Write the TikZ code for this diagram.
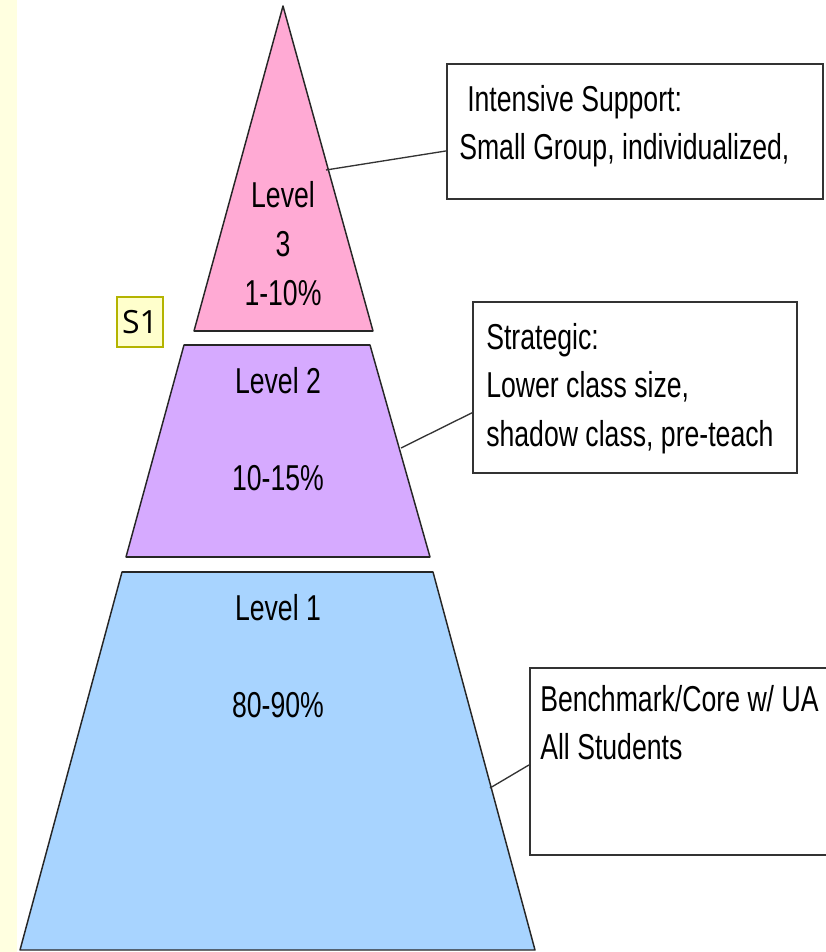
\documentclass[tikz,border=0pt]{standalone}
\usepackage{fontspec}
\newfontfamily\narrowfont[FakeStretch=0.74]{Liberation Sans}
\newfontfamily\slidefont{Open Sans}
\definecolor{levelpink}{RGB}{255,170,212}
\definecolor{levelpurple}{RGB}{214,170,255}
\definecolor{levelblue}{RGB}{168,212,255}
\definecolor{stripyellow}{RGB}{255,255,224}
\definecolor{tagyellow}{RGB}{255,255,204}
\definecolor{tagolive}{RGB}{180,180,0}

\begin{document}
\begin{tikzpicture}[x=0.75pt, y=-0.75pt,
		level/.style={draw=black!85, line width=1.1pt, line join=round},
		rim/.style={draw=black!85, line width=2pt},
		levellabel/.style={font=\narrowfont\fontsize{27}{36.75}\selectfont, align=center, inner sep=0pt},
		infobox/.style={draw=black!80, line width=1.6pt, fill=white, inner sep=0pt},
		infotext/.style={font=\narrowfont\fontsize{27}{36.3}\selectfont, align=left, inner sep=0pt, anchor=north west},
		link/.style={draw=black!80, line width=1pt}]
				\useasboundingbox (0,0) rectangle (825,952);
				\fill[stripyellow] (0,0) rectangle (17,952);
				\draw[level, fill=levelpink] (283,6) -- (373,331) -- (194,331) -- cycle;
				\draw[rim] (194,331) -- (373,331);
				\draw[level, fill=levelpurple] (184,345) -- (370,345) -- (430,557) -- (126,557) -- cycle;
				\draw[rim] (184,345) -- (370,345) (126,557) -- (430,557);
				\draw[level, fill=levelblue] (122,572) -- (433,572) -- (535,950) -- (20,950) -- cycle;
				\draw[rim] (122,572) -- (433,572);
				\node[levellabel] (levelthree) at (283,244) {Level\\3\\1-10\%};
				\node[levellabel] (leveltwo) at (278,429.5) {Level 2\\[36pt]10-15\%};
				\node[levellabel] (levelone) at (278,656) {Level 1\\[36pt]80-90\%};
				\node[draw=tagolive, fill=tagyellow, line width=0.8pt, minimum width=34.5pt, minimum height=37.5pt, inner sep=0pt, font=\slidefont\fontsize{24}{28}\selectfont] (slidetag) at (140,322) {S1};
				\coordinate (tipthree) at (326,170);
				\coordinate (tiptwo) at (401,448);
				\coordinate (tipone) at (490,788);
				\node[infobox, minimum width=282pt, minimum height=101.25pt] (intensive) at (635,131.5) {};
				\node[infobox, minimum width=243pt, minimum height=128.25pt] (strategic) at (635,387.5) {};
				\node[infobox, minimum width=225pt, minimum height=140.25pt] (benchmark) at (680,761.5) {};
				\node[infotext] (intensivetext) at (459,85) {\hspace*{6pt}Intensive Support:\\Small Group, individualized,};
				\node[infotext] (strategictext) at (486,323) {Strategic:\\Lower class size,\\shadow class, pre-teach};
				\node[infotext] (benchmarktext) at (540,685) {Benchmark/Core w/ UA\\All Students};
				\draw[link] ([yshift=-14.6pt]intensive.west) -- (tipthree);
				\draw[link] ([yshift=-19pt]strategic.west) -- (tiptwo);
				\draw[link] ([yshift=-2.6pt]benchmark.west) -- (tipone);
			\end{tikzpicture}
\end{document}
